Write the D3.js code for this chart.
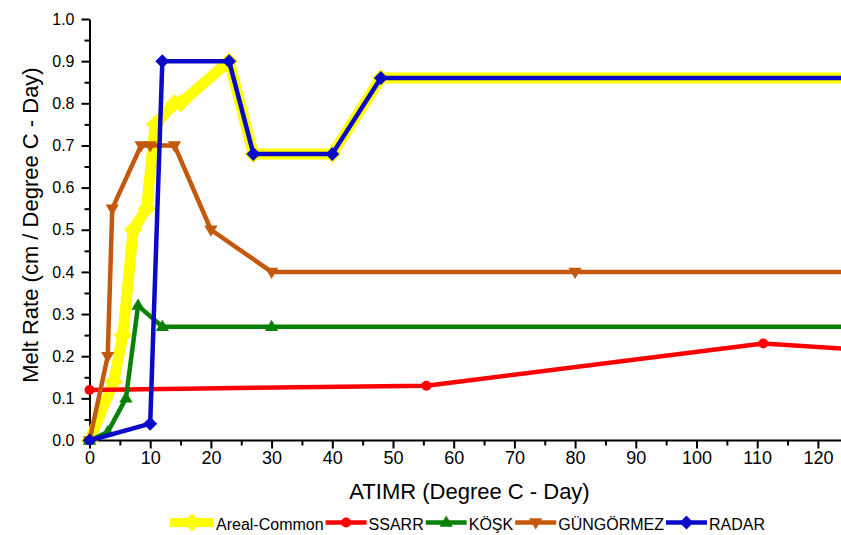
<!DOCTYPE html>
<html><head><meta charset="utf-8">
<script src="https://cdn.jsdelivr.net/npm/d3@7"></script>
<style>
html,body{margin:0;padding:0;background:#fff;}
svg{display:block;font-family:"Liberation Sans",Arial,sans-serif;}
</style></head>
<body>
<svg id="c" width="841" height="535"></svg>
<script>
// ---- data ----
const seriesNames = ["Areal-Common","SSARR","KÖŞK","GÜNGÖRMEZ","RADAR"];
const arealX = [0,4,5.5,7.2,9.4,10.8,14,15,23,27,40,48,125];
const arealY = [0,0.14,0.25,0.5,0.55,0.75,0.8,0.8,0.9,0.68,0.68,0.86,0.86];
const ssarrX = [0,55.5,111,125];
const ssarrY = [0.12,0.13,0.23,0.217];
const koskX = [0,3,6,8,12,30,125];
const koskY = [0,0.02,0.1,0.32,0.27,0.27,0.27];
const gungX = [0,3,3.75,8.5,10,14,20,30,80,125];
const gungY = [0,0.2,0.55,0.7,0.7,0.7,0.5,0.4,0.4,0.4];
const radarX = [0,10,12,23,27,40,48,125];
const radarY = [0,0.04,0.9,0.9,0.68,0.68,0.86,0.86];
const xTicks = [0,10,20,30,40,50,60,70,80,90,100,110,120];
const yTicks = [0,0.1,0.2,0.3,0.4,0.5,0.6,0.7,0.8,0.9,1.0];
const xTitle = "ATIMR (Degree C - Day)";
const yTitle = "Melt Rate (cm / Degree C - Day)";

// ---- layout ----
const svg = d3.select("#c");
const W = 841, H = 535;
const x = d3.scaleLinear().domain([0,125]).range([89.5, 89.5 + 125*6.07]);
const y = d3.scaleLinear().domain([0,1]).range([440.5, 19]);

const styles = [
  {color:"#FFFF00", width:11, marker:"diamond", size:9},
  {color:"#FF0000", width:4.5, marker:"circle", size:5},
  {color:"#078207", width:4.5, marker:"triUp", size:7},
  {color:"#C4580C", width:4.5, marker:"triDown", size:7},
  {color:"#0A0AC8", width:4.5, marker:"diamond", size:7}
];
const data = [
  d3.zip(arealX, arealY), d3.zip(ssarrX, ssarrY), d3.zip(koskX, koskY),
  d3.zip(gungX, gungY), d3.zip(radarX, radarY)
];

function markerPath(type, s){
  if(type==="diamond") return `M0,${-s}L${s},0L0,${s}L${-s},0Z`;
  if(type==="triUp") return `M0,${-s}L${s*0.95},${s*0.6}L${-s*0.95},${s*0.6}Z`;
  if(type==="triDown") return `M0,${s}L${s*0.95},${-s*0.6}L${-s*0.95},${-s*0.6}Z`;
  return d3.symbol(d3.symbolCircle, Math.PI*s*s)();
}

svg.append("defs").append("clipPath").attr("id","clip")
  .append("rect").attr("x",0).attr("y",0).attr("width",W).attr("height",445);

// axes
const xAxis = d3.axisBottom(x).tickValues(xTicks).tickSize(8).tickSizeOuter(0).tickPadding(3);
const xMinor = d3.axisBottom(x).tickValues(d3.range(5,125,10)).tickSize(5).tickFormat("");
const gx = svg.append("g").attr("transform",`translate(0,${y(0)})`).call(xAxis);
svg.append("g").attr("transform",`translate(0,${y(0)})`).call(xMinor).select(".domain").remove();
gx.select(".domain").attr("d",`M${x(0)},0H${W}`);
gx.selectAll("text").attr("font-size",18).attr("fill","#000").attr("font-family","Liberation Sans, Arial, sans-serif");

const yAxis = d3.axisLeft(y).tickValues(yTicks).tickSize(8).tickSizeOuter(0).tickPadding(7).tickFormat(d3.format(".1f"));
const yMinor = d3.axisLeft(y).tickValues(d3.range(0.05,1,0.1)).tickSize(5).tickFormat("");
const gy = svg.append("g").attr("transform",`translate(${x(0)},0)`).call(yAxis);
svg.append("g").attr("transform",`translate(${x(0)},0)`).call(yMinor).select(".domain").remove();
gy.selectAll("text").attr("font-size",16).attr("fill","#000").attr("font-family","Liberation Sans, Arial, sans-serif");
svg.selectAll(".domain, .tick line").attr("stroke","#000").attr("stroke-width",2);

// titles
svg.append("text").attr("x",469.5).attr("y",499.3).attr("text-anchor","middle")
  .attr("font-size",22).attr("fill","#000").text(xTitle);
svg.append("text").attr("transform","translate(38,225) rotate(-90)").attr("text-anchor","middle")
  .attr("font-size",22).attr("fill","#000").text(yTitle);

// series
const plot = svg.append("g").attr("clip-path","url(#clip)");
const line = d3.line().x(d=>x(d[0])).y(d=>y(d[1]));
data.forEach((pts,i)=>{
  const st = styles[i];
  const g = plot.append("g");
  g.append("path").attr("d", line(pts)).attr("fill","none")
    .attr("stroke", st.color).attr("stroke-width", st.width).attr("stroke-linejoin","round");
  g.selectAll("path.m").data(pts).join("path").attr("class","m")
    .attr("transform", d=>`translate(${x(d[0])},${y(d[1])})`)
    .attr("d", markerPath(st.marker, st.size)).attr("fill", st.color);
});

// legend
const lg = svg.append("g");
let lx = 170; const ly = 522.5;
seriesNames.forEach((name,i)=>{
  const st = styles[i];
  const len = i===0 ? 44 : 41;
  lg.append("line").attr("x1",lx).attr("x2",lx+len).attr("y1",ly).attr("y2",ly)
    .attr("stroke",st.color).attr("stroke-width", i===0 ? 9 : st.width);
  lg.append("path").attr("transform",`translate(${lx+len/2},${ly})`)
    .attr("d", markerPath(st.marker, st.size)).attr("fill", st.color);
  const t = lg.append("text").attr("x", lx+len+2).attr("y", 530).attr("font-size",16).attr("fill","#000").text(name);
  lx = lx + len + 2 + t.node().getComputedTextLength() + 2;
});
</script>
</body></html>
